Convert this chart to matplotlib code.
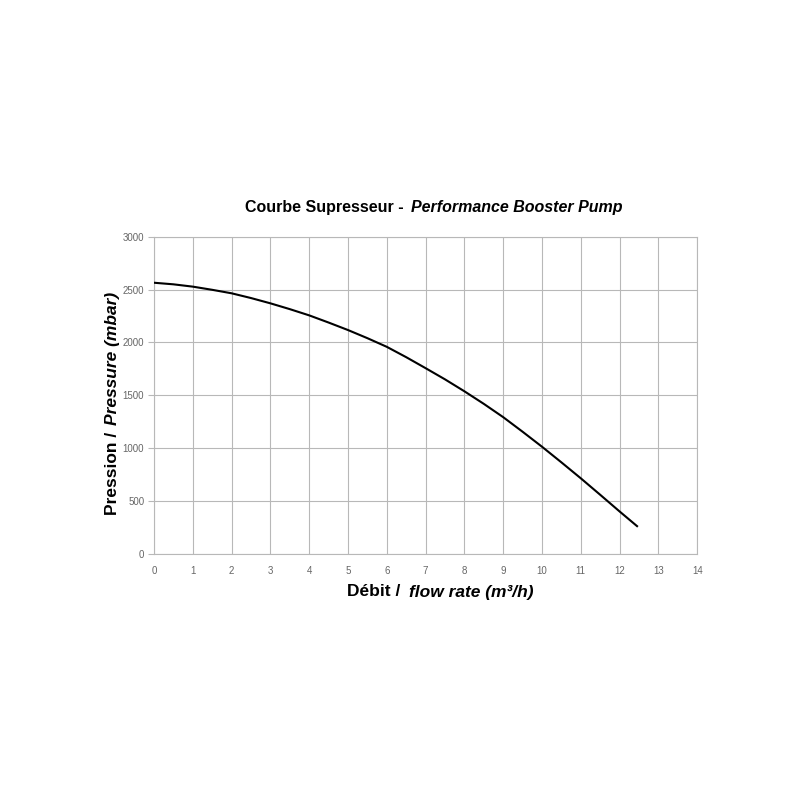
import matplotlib
matplotlib.use("Agg")
import matplotlib.pyplot as plt

# courbe (pas de 0.5 m3/h)
debit = [0, 0.5, 1, 1.5, 2, 2.5, 3, 3.5, 4, 4.5, 5, 5.5, 6, 6.5,
         7, 7.5, 8, 8.5, 9, 9.5, 10, 10.5, 11, 11.5, 12, 12.45]
pression = [2565, 2550, 2528, 2498, 2465, 2420, 2370, 2315, 2256, 2188, 2117, 2040, 1958, 1860,
            1756, 1650, 1537, 1418, 1292, 1154, 1012, 864, 713, 557, 399, 260]

x_ticks = list(range(0, 15))
y_ticks = [0, 500, 1000, 1500, 2000, 2500, 3000]

plt.rcParams['font.family'] = ['Liberation Sans', 'DejaVu Sans']

fig = plt.figure(figsize=(8, 8), dpi=100)
ax = fig.add_axes([0.1925, 0.308, 0.679, 0.396])

ax.plot(debit, pression, color='black', linewidth=1.5, zorder=3,
        solid_joinstyle='round')

ax.set_xlim(0, 14)
ax.set_ylim(0, 3000)
ax.set_xticks(x_ticks)
ax.set_yticks(y_ticks)
ax.set_xticklabels([str(v) for v in x_ticks])
ax.set_yticklabels([str(v) for v in y_ticks])
ax.grid(True, color='#b8b8b8', linewidth=0.8)
ax.set_axisbelow(True)
for s in ['top', 'right', 'left', 'bottom']:
    ax.spines[s].set_color('#b8b8b8')
    ax.spines[s].set_linewidth(0.8)
ax.tick_params(axis='x', length=0, pad=9, labelsize=7, labelcolor='#666666')
ax.tick_params(axis='y', length=4, width=0.8, color='#b8b8b8', pad=3,
               labelsize=7, labelcolor='#666666')

# titre et libellés (deux styles)
fig.text(0.505, 0.741, 'Courbe Supresseur -', ha='right', va='center',
         fontsize=11.5, fontweight='bold')
fig.text(0.514, 0.741, 'Performance Booster Pump', ha='left', va='center',
         fontsize=11.5, fontweight='bold', style='italic')

fig.text(0.5, 0.26, 'Débit /', ha='right', va='center',
         fontsize=12.5, fontweight='bold')
fig.text(0.511, 0.26, 'flow rate (m³/h)', ha='left', va='center',
         fontsize=12.5, fontweight='bold', style='italic')

fig.text(0.141, 0.46, 'Pression /', ha='center', va='top', rotation=90,
         fontsize=12.5, fontweight='bold')
fig.text(0.141, 0.469, 'Pressure (mbar)', ha='center', va='bottom', rotation=90,
         fontsize=12.5, fontweight='bold', style='italic')

fig.savefig('out.png', dpi=100, facecolor='white')
